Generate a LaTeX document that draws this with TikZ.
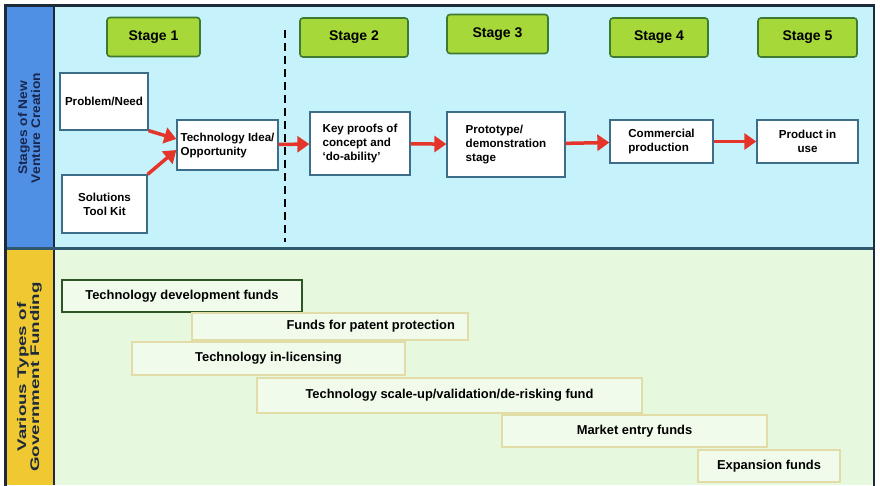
\documentclass[tikz,border=0pt]{standalone}
\usepackage{fontspec}
\setmainfont{Liberation Sans}
\usetikzlibrary{arrows.meta}
\definecolor{bandtop}{HTML}{C6F2FC}
\definecolor{bandbot}{HTML}{E6F8DE}
\definecolor{barblue}{HTML}{5090E4}
\definecolor{baryellow}{HTML}{F0C832}
\definecolor{stagefill}{HTML}{A6D83A}
\definecolor{stageline}{HTML}{3E7A30}
\definecolor{boxline}{HTML}{3C6E8A}
\definecolor{fundline}{HTML}{E2DDA6}
\definecolor{frameline}{HTML}{1C2A3A}
\definecolor{arrowred}{HTML}{E5342A}
\begin{document}
\begin{tikzpicture}[x=1pt,y=-1pt,
	stagebox/.style={draw=stageline,fill=stagefill,line width=1.6pt,rounded corners=3pt,font=\fontsize{14}{16}\selectfont\bfseries,minimum height=39pt},
	procbox/.style={draw=boxline,fill=white,line width=1.3pt,font=\fontsize{11.6}{14}\selectfont\bfseries,align=left,inner sep=1pt},
	fundbox/.style={draw=fundline,fill=bandbot!60!white,line width=1.6pt,font=\fontsize{12.9}{15}\selectfont\bfseries,minimum height=32pt},
	flow/.style={draw=arrowred,line width=3.5pt,-{Triangle[length=12pt,width=16pt]}},
	sidetext/.style={rotate=90,font=\fontsize{12.5}{13}\selectfont\bfseries}]
	\useasboundingbox (0,0) rectangle (880,485);
	% bands
	\fill[bandtop] (7,7) rectangle (874,247);
	\fill[bandbot] (7,249) rectangle (874,485);
	\fill[barblue] (7,7) rectangle (54,248);
	\fill[baryellow] (7,249) rectangle (54,485);
	\draw[frameline,line width=2pt] (54,7) -- (54,485);
	\draw[boxline!80!black,line width=3pt] (7,248) -- (874,248);
	\draw[frameline,line width=2.5pt] (5.5,487) -- (5.5,5.5) -- (874,5.5) -- (874,487);
	\node[sidetext,text=frameline!90!blue](lblstages) at (31,128){\scalebox{1.1}[1]{\begin{tabular}{@{}c@{}}Stages of New\\Venture Creation\end{tabular}}};
	\node[sidetext,text=frameline](lblfunding) at (30,377){\scalebox{1.5}[1]{\begin{tabular}{@{}c@{}}Various Types of\\Government Funding\end{tabular}}};
	% stages
	\node[stagebox,minimum width=93pt](s1) at (153.5,37){Stage 1};
	\node[stagebox,minimum width=108pt](s2) at (354,37.5){Stage 2};
	\node[stagebox,minimum width=101pt](s3) at (497.5,34){Stage 3};
	\node[stagebox,minimum width=98pt](s4) at (659,37.5){Stage 4};
	\node[stagebox,minimum width=99pt](s5) at (807.5,37.5){Stage 5};
	\draw[black,line width=2pt,dash pattern=on 8pt off 5pt] (285,30) -- (285,242);
	% process
	\node[procbox,minimum width=88pt,minimum height=57pt](pn) at (104,101.5){Problem/Need};
	\node[procbox,minimum width=85pt,minimum height=58pt,align=center](sk) at (104.5,204){Solutions\\Tool Kit};
	\node[procbox,minimum width=101pt,minimum height=50pt](idea) at (227.5,145){Technology Idea/\\Opportunity};
	\node[procbox,minimum width=100pt,minimum height=63pt](kp) at (360,143.5){Key proofs of\\concept and\\`do-ability'};
	\node[procbox,minimum width=118pt,minimum height=65pt](pt) at (506,144.5){Prototype/\\demonstration\\stage};
	\node[procbox,minimum width=103pt,minimum height=43pt](cp) at (661.5,141.5){Commercial\\production};
	\node[procbox,minimum width=101pt,minimum height=43pt,align=center](pu) at (807.5,141.5){Product in\\use};
	\draw[flow] (pn.south east) -- ([yshift=6pt]idea.west);
	\draw[flow] (sk.north east) -- ([yshift=-5pt]idea.west);
	\draw[flow] (idea) -- (kp);
	\draw[flow] (kp) -- (pt);
	\draw[flow] (pt) -- (cp);
	\draw[flow] (cp) -- (pu);
	% funding
	\node[fundbox,draw=stageline!70!black,minimum width=240pt](fdev) at (182,296){Technology development funds};
	\node[fundbox,minimum height=27pt,text width=250pt,align=flush right,inner xsep=13pt](fpat) at (330,326.5){Funds for patent protection};
	\node[fundbox,minimum width=273pt,minimum height=33pt](flic) at (268.5,358.5){Technology in-licensing};
	\node[fundbox,minimum width=385pt,minimum height=35pt](fscale) at (449.5,395.5){Technology scale-up/validation/de-risking fund};
	\node[fundbox,minimum width=265pt](fmkt) at (634.5,431){Market entry funds};
	\node[fundbox,minimum width=142pt](fexp) at (769,466){Expansion funds};
\end{tikzpicture}
\end{document}
